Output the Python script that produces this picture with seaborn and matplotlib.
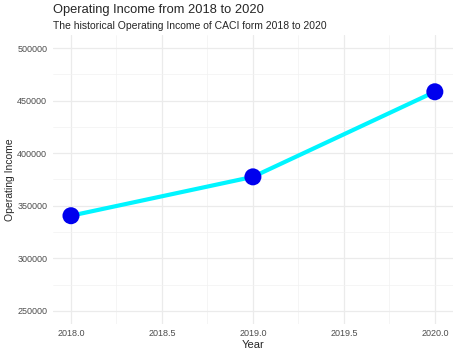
import numpy as np
import pandas as pd
import matplotlib
matplotlib.use("Agg")
import matplotlib.pyplot as plt
import seaborn as sns
from matplotlib.ticker import MultipleLocator

years = [2018, 2019, 2020]
operating_income = [340500, 377500, 458500]

df = pd.DataFrame({"Year": years, "Operating Income": operating_income})

sns.set_style("white")
plt.rcParams['font.family'] = ['Liberation Sans', 'DejaVu Sans']

fig = plt.figure(figsize=(4.59, 3.54), dpi=100)
ax = fig.add_axes([0.115, 0.085, 0.872, 0.816])

sns.lineplot(data=df, x="Year", y="Operating Income", color="#00f5ff", linewidth=3, ax=ax, zorder=3)
sns.scatterplot(data=df, x="Year", y="Operating Income", color="#0000ee", s=150, edgecolor="none", ax=ax, zorder=4)

ax.set_xlim(2017.9, 2020.1)
ax.set_ylim(237500, 512500)
ax.xaxis.set_major_locator(MultipleLocator(0.5))
ax.xaxis.set_minor_locator(MultipleLocator(0.25))
ax.yaxis.set_major_locator(MultipleLocator(50000))
ax.yaxis.set_minor_locator(MultipleLocator(25000))
ax.set_xticklabels([f"{t:.1f}" for t in ax.get_xticks()])
ax.grid(which="major", color="#ebebeb", linewidth=0.9)
ax.grid(which="minor", color="#f2f2f2", linewidth=0.5)
ax.set_axisbelow(True)
for s in ax.spines.values():
    s.set_visible(False)
ax.tick_params(which="both", length=0, labelsize=6.5, labelcolor="#4d4d4d", pad=4)

ax.set_xlabel("Year", fontsize=8, labelpad=1)
ax.set_ylabel("Operating Income", fontsize=7.5, va="center")
ax.yaxis.set_label_coords(-0.107, 0.5)

fig.text(0.115, 0.971, "Operating Income from 2018 to 2020", fontsize=9.3, ha="left", va="center")
fig.text(0.115, 0.927, "The historical Operating Income of CACI form 2018 to 2020", fontsize=7.5, ha="left", va="center")

fig.savefig("out.png", dpi=100)
